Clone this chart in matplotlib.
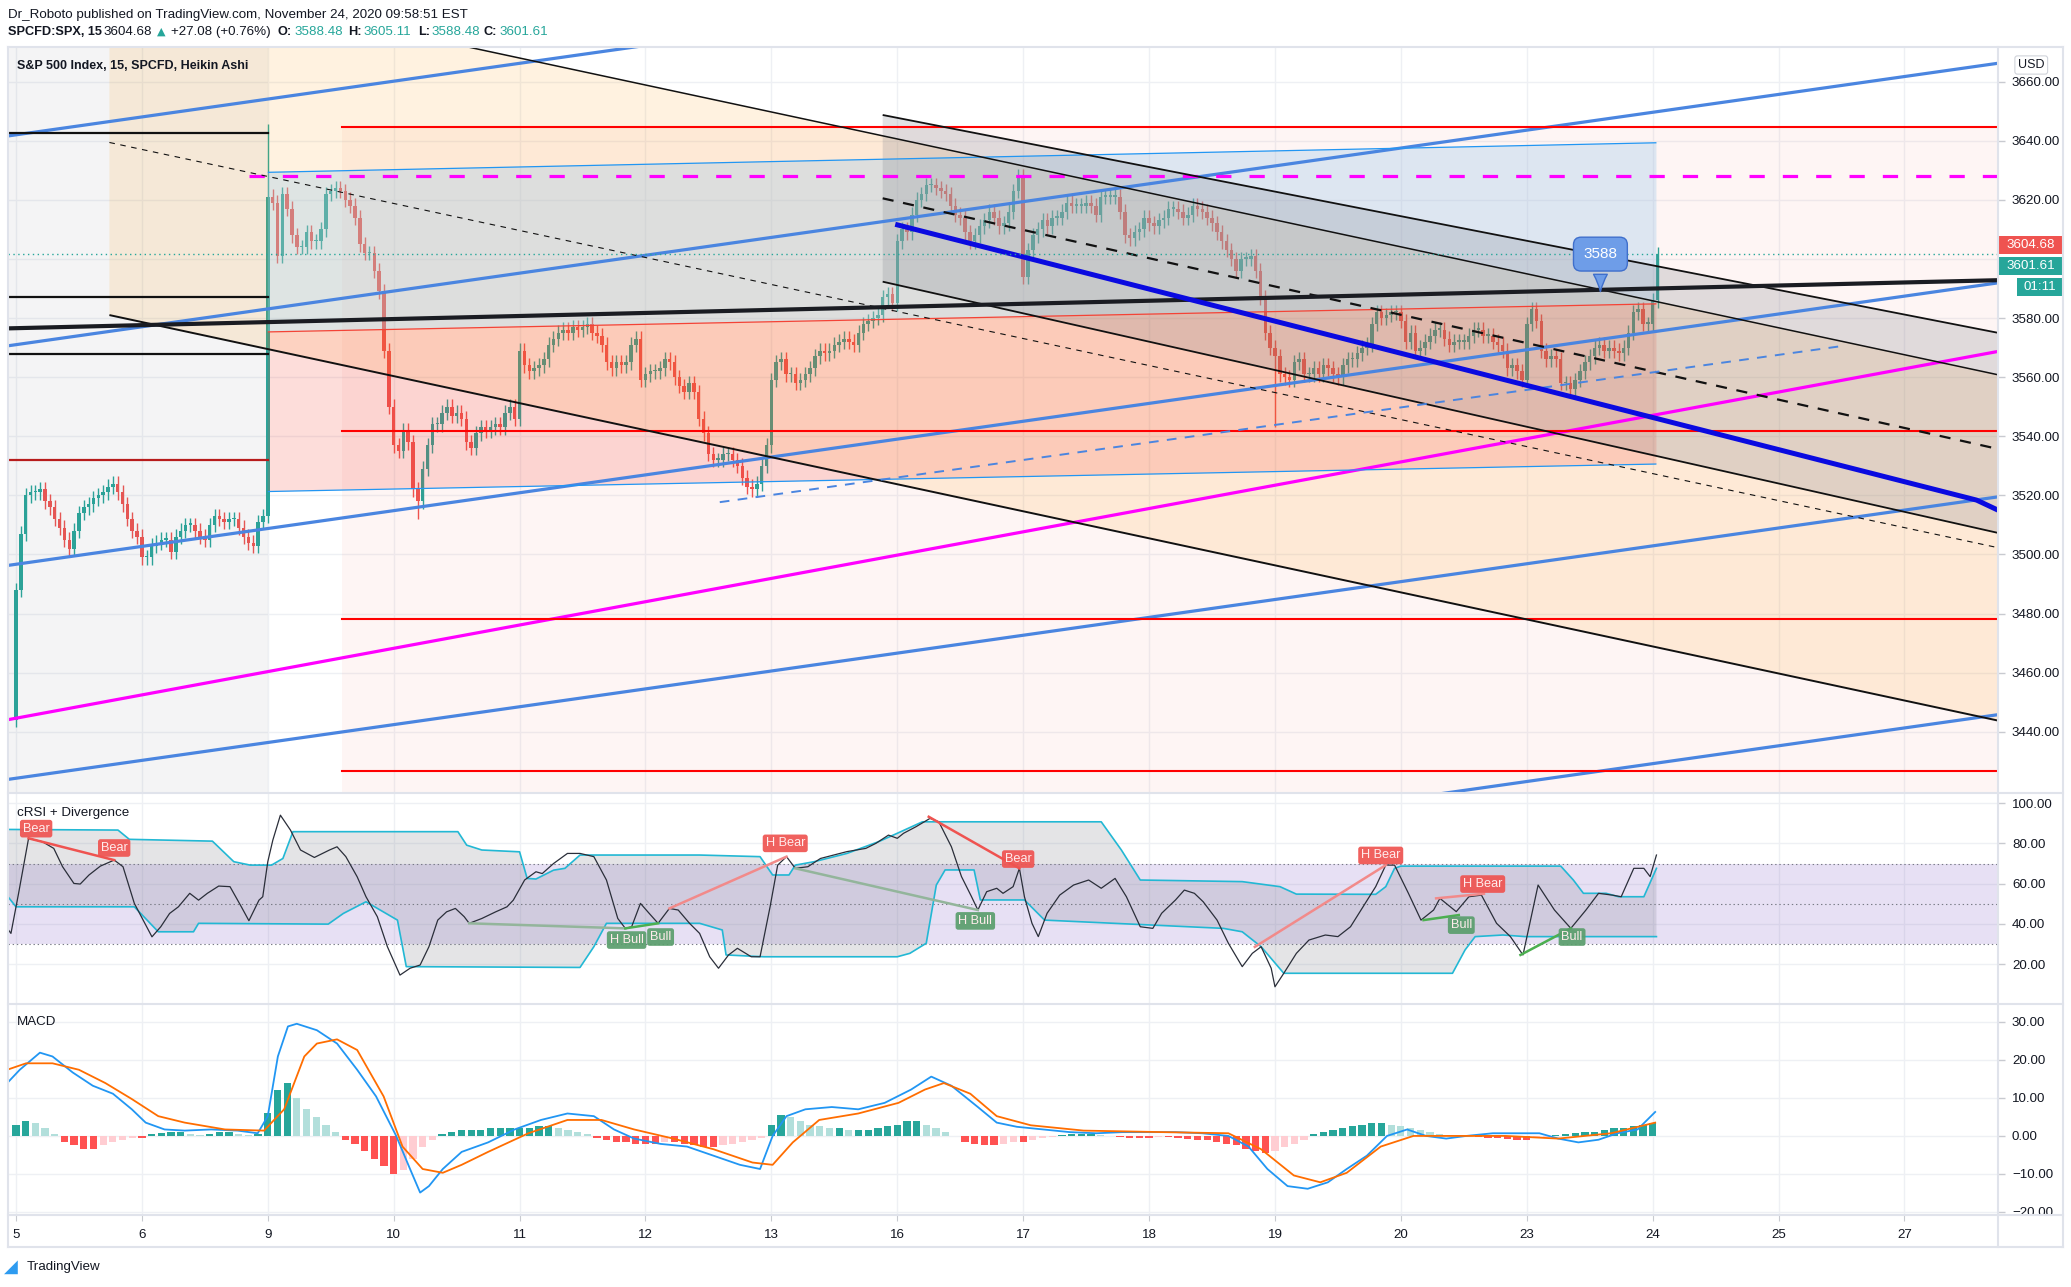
import numpy as np
import matplotlib.pyplot as plt
from matplotlib.patches import Polygon, Rectangle
from matplotlib.lines import Line2D
from matplotlib.transforms import blended_transform_factory

plt.rcParams['font.family'] = ['Liberation Sans', 'DejaVu Sans']
plt.rcParams['lines.scale_dashes'] = False

W, H = 2071, 1287

# --- time axis: trading days of Nov 2020, 26 bars of 15 min per session
DAY_LABELS = ["5", "6", "9", "10", "11", "12", "13", "16", "17", "18", "19", "20", "23", "24", "25", "27"]
BARS_PER_DAY = 26

# --- Heikin Ashi closes per session
HA_NOV05 = [3488, 3507, 3520, 3521, 3521, 3522, 3518, 3516, 3512, 3509, 3505, 3502, 3508, 3514, 3516, 3517, 3519, 3520, 3521, 3523, 3524, 3521, 3517, 3512, 3508, 3506]
HA_NOV06 = [3499, 3499, 3503, 3504, 3505, 3505, 3501, 3506, 3508, 3510, 3510, 3508, 3506, 3505, 3510, 3513, 3512, 3511, 3512, 3512, 3509, 3506, 3504, 3503, 3511, 3513]
HA_NOV09 = [3621, 3619, 3601, 3622, 3617, 3608, 3604, 3604, 3609, 3606, 3606, 3610, 3622, 3623, 3624, 3623, 3620, 3618, 3614, 3605, 3602, 3602, 3596, 3589, 3569, 3550]
HA_NOV10 = [3537, 3535, 3542, 3538, 3522, 3518, 3529, 3537, 3544, 3544, 3548, 3550, 3547, 3548, 3546, 3538, 3536, 3541, 3543, 3542, 3543, 3544, 3543, 3548, 3550, 3546]
HA_NOV11 = [3569, 3564, 3562, 3563, 3564, 3566, 3571, 3573, 3575, 3576, 3575, 3577, 3576, 3577, 3578, 3575, 3574, 3571, 3565, 3563, 3565, 3564, 3565, 3571, 3573, 3559]
HA_NOV12 = [3561, 3562, 3562, 3563, 3566, 3565, 3560, 3557, 3555, 3558, 3555, 3546, 3541, 3534, 3532, 3532, 3534, 3534, 3532, 3530, 3526, 3523, 3522, 3524, 3530, 3537]
HA_NOV13 = [3559, 3565, 3566, 3561, 3561, 3558, 3559, 3561, 3563, 3567, 3569, 3568, 3569, 3571, 3572, 3573, 3572, 3571, 3575, 3578, 3579, 3580, 3581, 3587, 3588, 3585]
HA_NOV16 = [3606, 3610, 3609, 3615, 3620, 3622, 3625, 3625, 3624, 3623, 3622, 3618, 3615, 3614, 3609, 3606, 3608, 3611, 3613, 3616, 3614, 3611, 3612, 3616, 3623, 3628]
HA_NOV17 = [3594, 3603, 3608, 3610, 3613, 3611, 3614, 3614, 3616, 3619, 3618, 3618, 3618, 3619, 3618, 3615, 3621, 3621, 3621, 3621, 3616, 3608, 3607, 3609, 3610, 3614]
HA_NOV18 = [3612, 3611, 3613, 3614, 3617, 3617, 3616, 3614, 3615, 3618, 3617, 3616, 3614, 3612, 3609, 3606, 3603, 3600, 3596, 3600, 3600, 3601, 3596, 3587, 3575, 3570]
HA_NOV19 = [3567, 3561, 3560, 3559, 3565, 3566, 3561, 3561, 3563, 3561, 3564, 3563, 3561, 3560, 3564, 3566, 3566, 3568, 3570, 3571, 3578, 3582, 3580, 3581, 3582, 3582]
HA_NOV20 = [3579, 3572, 3575, 3569, 3570, 3572, 3574, 3576, 3576, 3573, 3571, 3572, 3572, 3572, 3574, 3576, 3576, 3574, 3574, 3572, 3571, 3569, 3563, 3564, 3562, 3559]
HA_NOV23 = [3578, 3583, 3579, 3569, 3566, 3567, 3566, 3558, 3558, 3556, 3559, 3562, 3565, 3567, 3570, 3571, 3569, 3570, 3569, 3568, 3570, 3575, 3582, 3583, 3578, 3578]
HA_NOV24 = [3586, 3601.61]
HA_SESSIONS = [HA_NOV05, HA_NOV06, HA_NOV09, HA_NOV10, HA_NOV11, HA_NOV12, HA_NOV13,
               HA_NOV16, HA_NOV17, HA_NOV18, HA_NOV19, HA_NOV20, HA_NOV23, HA_NOV24]
FIRST_OPEN = 3444.0
WICK = 2.5
# (session, bar, extreme) for the long shadows
WICK_SPIKES = [(2, 0, 3645.5), (3, 5, 3512.0), (5, 23, 3519.5), (10, 0, 3543.0)]
LAST_PRICE = 3601.61

# --- drawings on the price pane: (day, price) end points
BLUE_PARALLELS = [((-0.064, 3641.6), (15.743, 3737.2)), ((-0.064, 3570.6), (15.743, 3666.2)),
                  ((-0.064, 3496.3), (15.743, 3591.9)), ((-0.064, 3423.9), (15.743, 3519.5)),
                  ((-0.064, 3350.3), (15.743, 3445.8))]
MAGENTA_LINE = ((-0.064, 3444.1), (15.743, 3568.7))
MAGENTA_LEVEL = (1.848, 3628.1)
BLACK_THICK = ((-0.064, 3576.5), (15.743, 3592.8))
LEFT_LEVELS = [3642.7, 3587.2, 3567.9]
LEFT_LEVEL_RED = 3532.0
FIB_START = 2.589
FIB_LEVELS = [3644.8, 3541.9, 3478.3, 3426.9]
BIG_CH_UPPER = ((0.742, 3697.7), (15.743, 3560.8))
BIG_CH_MID = ((0.742, 3639.4), (15.743, 3502.3))
BIG_CH_LOWER = ((0.742, 3581.0), (15.743, 3443.8))
GRAY_CH_UPPER = ((6.884, 3648.7), (15.743, 3575.0))
GRAY_CH_MID = ((6.884, 3620.5), (15.743, 3535.7))
GRAY_CH_LOWER = ((6.884, 3592.3), (15.743, 3507.3))
BOX_TOP = ((2.0, 3629.3), (13.03, 3639.3))
BOX_MID = ((2.0, 3575.3), (13.03, 3584.8))
BOX_BOTTOM = ((2.0, 3521.3), (13.03, 3530.6))
DARK_BLUE = [(7.003, 3611.5), (15.573, 3518.4), (15.743, 3515.0)]
BLUE_DASHED = ((5.59, 3517.7), (14.50, 3570.5))
CALLOUT = (12.585, 3588)

# --- cRSI
CRSI_T = [-0.06, -0.04, 0.02, 0.10, 0.21, 0.30, 0.37, 0.46, 0.51, 0.58, 0.67, 0.78, 0.85, 0.94, 1.01, 1.08, 1.15, 1.22, 1.29, 1.38, 1.45, 1.52, 1.61, 1.70, 1.79, 1.85, 1.93, 1.96, 2.00, 2.04, 2.10, 2.18, 2.26, 2.37, 2.49, 2.55, 2.62, 2.71, 2.78, 2.87, 2.95, 3.05, 3.13, 3.21, 3.28, 3.35, 3.42, 3.49, 3.56, 3.60, 3.70, 3.81, 3.90, 3.95, 4.04, 4.13, 4.18, 4.27, 4.38, 4.48, 4.59, 4.69, 4.78, 4.84, 4.89, 4.96, 5.03, 5.10, 5.19, 5.26, 5.35, 5.43, 5.51, 5.58, 5.66, 5.73, 5.84, 5.91, 5.99, 6.05, 6.12, 6.19, 6.29, 6.39, 6.60, 6.75, 6.83, 6.93, 7.00, 7.05, 7.15, 7.26, 7.33, 7.43, 7.51, 7.59, 7.64, 7.71, 7.79, 7.84, 7.92, 7.97, 8.01, 8.07, 8.12, 8.19, 8.29, 8.40, 8.52, 8.62, 8.73, 8.82, 8.93, 9.03, 9.10, 9.21, 9.28, 9.36, 9.43, 9.54, 9.63, 9.74, 9.82, 9.89, 9.97, 10.00, 10.07, 10.17, 10.27, 10.40, 10.50, 10.60, 10.70, 10.80, 10.88, 10.95, 11.06, 11.16, 11.26, 11.31, 11.44, 11.54, 11.64, 11.76, 11.87, 11.97, 12.09, 12.22, 12.35, 12.47, 12.57, 12.68, 12.75, 12.85, 12.93, 12.98, 13.03]
CRSI_V = [37, 35.3, 55, 82.5, 80.8, 77.5, 68.4, 60.1, 59.8, 64.3, 68.7, 71.7, 68.4, 50.2, 41.9, 33.6, 38.6, 45.2, 48.5, 55.2, 51.8, 55.2, 58.8, 58.5, 48.5, 41.6, 51.8, 53.5, 70.9, 81.6, 94, 86.6, 76.7, 73, 76.7, 78.3, 73.4, 63.4, 53.5, 43.6, 28.7, 14.6, 18, 19.6, 28.7, 41.9, 46, 47.7, 43.6, 40.3, 42.7, 46, 48.5, 51.8, 61.8, 65.9, 65, 70, 75, 75, 73.4, 61.8, 42.7, 37.8, 38.6, 50.2, 45.2, 40.3, 47.7, 46.9, 40.3, 35.3, 23.7, 18, 24.6, 27.9, 23.7, 23.7, 48.6, 69.2, 73.4, 67.6, 68.4, 72.5, 75.9, 77.5, 80, 84.1, 82.5, 85, 88.3, 92.4, 90.7, 78.3, 63.5, 53.5, 46.9, 56, 57.7, 55.2, 58.5, 67.6, 53.5, 40.3, 33.7, 45.3, 54.3, 59.3, 61.8, 57.7, 62.6, 53.5, 38.6, 37.8, 45.3, 51.9, 56.8, 55.2, 51, 41.9, 30.4, 18.8, 25.4, 28.7, 18, 8.8, 15.5, 25.4, 32, 34.5, 33.7, 38.6, 48.6, 58.5, 69.2, 69.2, 55.2, 41.9, 46.9, 52.7, 46.1, 53.5, 54.3, 40.3, 33.7, 24.6, 59.3, 46.9, 37.8, 46.9, 55.2, 54.3, 53.5, 67.6, 67.6, 63.5, 74.2]
BAND_UP_T = [-0.06, 0.81, 0.90, 1.56, 1.73, 1.86, 2.03, 2.12, 2.20, 3.51, 3.58, 3.70, 4.00, 4.06, 4.13, 4.27, 4.36, 4.48, 5.43, 5.91, 6.01, 6.14, 6.19, 6.34, 6.60, 6.85, 7.00, 7.20, 8.62, 8.78, 8.93, 9.74, 10.04, 10.17, 10.80, 10.88, 10.95, 11.00, 12.27, 12.37, 12.45, 12.63, 12.73, 12.93, 13.03]
BAND_UP_V = [86.9, 86.6, 82, 81.1, 70.9, 69.2, 69.2, 72.5, 85.8, 85.8, 79.1, 76.7, 75.8, 62.6, 62.3, 66.7, 67.6, 74.2, 74.2, 73.4, 64.3, 64.3, 69.2, 70.9, 75, 80.8, 85, 90.7, 90.7, 76.7, 61.8, 61, 58.5, 54.8, 54.7, 58.5, 67.6, 68.7, 68.7, 61.8, 55.2, 55.2, 53.5, 53.5, 67.6]
BAND_LO_T = [-0.06, 0.0, 0.94, 1.13, 1.41, 1.45, 2.48, 2.60, 2.78, 3.03, 3.10, 4.48, 4.59, 4.69, 5.43, 5.61, 5.64, 5.94, 7.00, 7.10, 7.23, 7.31, 7.38, 7.61, 7.66, 8.01, 8.17, 9.59, 9.74, 9.89, 10.07, 11.41, 11.51, 11.59, 11.81, 11.99, 13.03]
BAND_LO_V = [53.2, 48.5, 48.5, 36.1, 36.1, 40.3, 39.9, 45.2, 51, 41.9, 18.8, 18.4, 28.7, 40.3, 40.3, 37, 24.6, 23.7, 23.7, 25.4, 30.4, 59.3, 66.8, 66.8, 51.9, 51.9, 41.9, 37.8, 36.1, 28.7, 15.5, 15.5, 27.1, 33.7, 34.5, 33.7, 33.7]
DIV_LINES = [((0.10, 82.5), (0.78, 71.7), 'Bear'), ((3.60, 40.3), (4.84, 37.8), 'H Bull'),
             ((4.84, 37.8), (5.10, 40.3), 'Bull'), ((5.19, 47.7), (6.12, 73.4), 'H Bear'),
             ((6.19, 67.6), (7.64, 46.9), 'H Bull'), ((7.25, 93.2), (7.97, 67.6), 'Bear'),
             ((9.84, 28.6), (10.88, 69.2), 'H Bear'), ((11.18, 41.9), (11.46, 44.4), 'Bull'),
             ((11.28, 52.7), (11.66, 55.0), 'H Bear'), ((11.95, 24.6), (12.35, 37.8), 'Bull')]
DIV_TAGS = [('Bear', 0.16, 87.3), ('Bear', 0.78, 77.7), ('H Bull', 4.85, 32.0), ('Bull', 5.12, 33.5),
            ('H Bear', 6.11, 80.0), ('H Bull', 7.62, 41.5), ('Bear', 7.96, 72.2), ('H Bear', 10.84, 74.0),
            ('Bull', 11.48, 39.4), ('H Bear', 11.65, 59.8), ('Bull', 12.36, 33.5)]

# --- MACD
MACD_T = [-0.07, 0.03, 0.19, 0.29, 0.45, 0.61, 0.77, 0.92, 1.03, 1.18, 1.34, 1.55, 1.76, 1.92, 2.00, 2.08, 2.16, 2.23, 2.39, 2.55, 2.71, 2.86, 3.02, 3.13, 3.21, 3.28, 3.39, 3.54, 3.75, 3.96, 4.17, 4.38, 4.59, 4.75, 4.91, 5.12, 5.33, 5.54, 5.75, 5.91, 6.01, 6.12, 6.27, 6.48, 6.69, 6.90, 7.11, 7.27, 7.43, 7.64, 7.79, 7.95, 8.16, 8.37, 8.58, 8.79, 9.00, 9.21, 9.42, 9.63, 9.79, 9.94, 10.10, 10.26, 10.42, 10.57, 10.73, 10.89, 11.05, 11.20, 11.36, 11.52, 11.73, 11.94, 12.10, 12.25, 12.41, 12.57, 12.72, 12.88, 13.02]
MACD_V = [13.9, 17.4, 21.9, 20.9, 16.7, 13.2, 11.1, 7.0, 3.5, 1.7, 1.4, 1.7, 1.4, 0.7, 5.2, 20.9, 28.8, 29.5, 27.8, 24.3, 17.4, 10.4, 0, -8.7, -14.9, -13.2, -8.7, -4.2, -1.7, 1.7, 4.2, 5.9, 5.2, 1.7, -0.7, -2.1, -2.8, -5.2, -7.6, -8.7, 0, 5.2, 7.0, 7.6, 7.0, 8.7, 12.2, 15.6, 13.2, 7.6, 3.5, 2.4, 1.7, 1.0, 0.7, 1.0, 1.0, 1.0, 0.7, 0, -2.8, -8.7, -13.2, -13.9, -12.2, -8.7, -5.2, 0, 1.7, 0, -0.7, 0, 0.7, 0.7, 0.7, -0.7, -1.7, -1.0, 0.7, 1.7, 6.3]
SIGNAL_T = [-0.07, 0.08, 0.29, 0.50, 0.71, 0.92, 1.13, 1.34, 1.66, 1.97, 2.13, 2.29, 2.39, 2.55, 2.71, 2.92, 3.07, 3.23, 3.39, 3.54, 3.75, 4.07, 4.38, 4.65, 4.91, 5.22, 5.54, 5.85, 6.01, 6.17, 6.38, 6.69, 7.01, 7.22, 7.37, 7.58, 7.79, 8.06, 8.48, 9.11, 9.63, 9.89, 10.15, 10.36, 10.57, 10.84, 11.10, 11.41, 11.83, 12.25, 12.67, 13.02]
SIGNAL_V = [17.4, 19.1, 19.1, 17.4, 13.9, 9.7, 5.2, 3.5, 1.7, 1.4, 7.0, 20.9, 24.3, 25.4, 22.6, 10.4, -2.8, -8.7, -9.7, -7.6, -4.2, 0.7, 4.2, 4.2, 1.7, -0.7, -3.5, -7.0, -7.6, -1.7, 4.2, 5.9, 8.7, 12.2, 13.9, 11.1, 5.2, 2.8, 1.4, 1.0, 0.7, -3.5, -10.4, -12.2, -9.7, -2.8, 0, 0, 0, -0.7, 0.7, 3.5]
# histogram, one value per half hour
HIST = [3, 4, 3.5, 2, 0.5, -1.5, -2.5, -3.5, -3.5, -2.5, -1.5, -1, -0.5,
        -0.5, 0.5, 0.8, 1, 1, 0.5, 0.3, 0.5, 1, 1, 0.5, 0.3, 0.5,
        6, 12, 14, 10, 7, 5, 3, 1, -1, -2, -4, -6, -8,
        -10, -9, -6, -3, -1, 0.5, 1, 1.5, 1.5, 1.5, 2, 2, 2,
        2, 2, 2.5, 2.5, 2, 1.5, 1, 0.5, -0.5, -1, -1.5, -1.5, -2,
        -2, -2, -1.5, -1.5, -2, -2.5, -3, -3, -2.5, -2, -1.5, -1, -0.5,
        3, 5.5, 5, 4, 3, 2.5, 2, 2, 1.5, 1.5, 1.5, 2, 2.5,
        3, 4, 4, 3, 2, 1, 0, -1.5, -2, -2.5, -2.5, -2, -1.5,
        -1.5, -1, -0.5, -0.3, 0.3, 0.5, 0.5, 0.5, 0.3, 0, -0.3, -0.5, -0.5,
        -0.5, -0.3, -0.3, -0.5, -0.8, -1, -1.2, -1.5, -2, -2.5, -3.5, -4, -4.5,
        -4, -3, -2, -1, 0.5, 1, 1.5, 2, 2.5, 3, 3.5, 3.5, 3,
        2.5, 2, 1.5, 1, 0.5, 0.3, 0.2, 0, -0.3, -0.5, -0.5, -0.8, -1,
        -1, -0.5, -0.3, 0.3, 0.5, 0.8, 1, 1, 1.5, 2, 2, 2.5, 3,
        3.5]

PRICE_TICKS = list(range(3440, 3661, 20))
PRICE_HIDDEN = [3600]  # covered by the last-price tags
CRSI_TICKS = [20, 40, 60, 80, 100]
MACD_TICKS = [-20, -10, 0, 10, 20, 30]

TEAL, RED = '#26a69a', '#ef5350'
GRID = '#eef0f4'
BORDER = '#e0e3eb'
TXT = '#131722'


def rect(x0, y0, x1, y1):
    return [x0 / W, 1 - y1 / H, (x1 - x0) / W, (y1 - y0) / H]


def seg(ax, p, **kw):
    (x0, y0), (x1, y1) = p
    ax.plot([x0, x1], [y0, y1], solid_capstyle='butt', **kw)


fig = plt.figure(figsize=(W / 100, H / 100), dpi=100)
ax_p = fig.add_axes(rect(8, 47, 1998, 793))
ax_r = fig.add_axes(rect(8, 793, 1998, 1004), sharex=ax_p)
ax_m = fig.add_axes(rect(8, 1004, 1998, 1215), sharex=ax_p)

for ax, ticks in [(ax_p, PRICE_TICKS), (ax_r, CRSI_TICKS), (ax_m, MACD_TICKS)]:
    for s in ax.spines.values():
        s.set_visible(False)
    ax.yaxis.tick_right()
    ax.set_yticks(ticks)
    ax.set_yticklabels(['' if (ax is ax_p and t in PRICE_HIDDEN) else f'{t:.2f}'.replace('-', '\u2212')
                        for t in ticks])
    ax.tick_params(axis='y', length=5, width=1, color='#c8cad0', pad=5, labelsize=9.6, labelcolor=TXT)
    ax.tick_params(axis='x', length=0, labelbottom=False)
    ax.grid(True, color=GRID, lw=1)
    ax.set_axisbelow(True)

ax_p.set_xticks(range(len(DAY_LABELS)))
ax_p.set_xlim(-0.0635, 15.743)
ax_m.tick_params(axis='x', labelbottom=True, length=4, color='#c8cad0', pad=6, labelsize=9.6, labelcolor=TXT)
ax_m.set_xticklabels(DAY_LABELS)
ax_p.set_ylim(3419.3, 3671.7)
ax_r.set_ylim(0.25, 105.0)
ax_m.set_ylim(-20.8, 34.7)

# ---------------- price pane ----------------
xs, op, cl = [], [], []
starts = []
prev = FIRST_OPEN
for k, sess in enumerate(HA_SESSIONS):
    starts.append(len(xs))
    for j, c in enumerate(sess):
        xs.append(k + j / BARS_PER_DAY)
        op.append(prev)
        cl.append(c)
        prev = c
xs, op, cl = np.array(xs), np.array(op), np.array(cl)
up = cl >= op
colors = np.where(up, TEAL, RED)
hi = np.maximum(op, cl) + WICK
lo = np.minimum(op, cl) - WICK
for k, j, ext in WICK_SPIKES:
    i = starts[k] + j
    hi[i] = max(hi[i], ext)
    lo[i] = min(lo[i], ext)
ax_p.vlines(xs, lo, hi, colors=colors, lw=1, zorder=1)
body = np.maximum(np.abs(cl - op), 0.5)
ax_p.bar(xs, body, bottom=np.minimum(op, cl), width=0.72 / BARS_PER_DAY, color=colors, lw=0, zorder=1.2)

# shaded areas
ax_p.axvspan(-0.0635, 2.0, color='#787b86', alpha=0.08, lw=0, zorder=2)
ax_p.fill_between([FIB_START, 15.743], 3380, FIB_LEVELS[0], color='#f44336', alpha=0.05, lw=0, zorder=2)
ax_p.add_patch(Polygon([BIG_CH_UPPER[0], BIG_CH_UPPER[1], BIG_CH_LOWER[1], BIG_CH_LOWER[0]],
                       closed=True, fc='#ff9800', alpha=0.12, lw=0, zorder=2))
ax_p.add_patch(Polygon([BOX_TOP[0], BOX_TOP[1], BOX_MID[1], BOX_MID[0]],
                       closed=True, fc='#9cc8ec', alpha=0.33, lw=0, zorder=2))
ax_p.add_patch(Polygon([BOX_MID[0], BOX_MID[1], BOX_BOTTOM[1], BOX_BOTTOM[0]],
                       closed=True, fc='#f44336', alpha=0.18, lw=0, zorder=2))
ax_p.add_patch(Polygon([GRAY_CH_UPPER[0], GRAY_CH_UPPER[1], GRAY_CH_LOWER[1], GRAY_CH_LOWER[0]],
                       closed=True, fc='#787b86', alpha=0.22, lw=0, zorder=2))

# lines
for ln in BLUE_PARALLELS:
    seg(ax_p, ln, color='#4a85e0', lw=2.3, zorder=4)
seg(ax_p, MAGENTA_LINE, color='#ff00ff', lw=2.3, zorder=4)
ax_p.plot([MAGENTA_LEVEL[0], 15.743], [MAGENTA_LEVEL[1]] * 2, color='#ff00ff', lw=2.3,
          dashes=(11, 13), zorder=4)
for lv in LEFT_LEVELS:
    ax_p.plot([-0.0635, 2.0], [lv, lv], color='#111111', lw=1.6, zorder=4)
ax_p.plot([-0.0635, 2.0], [LEFT_LEVEL_RED] * 2, color='#b71c1c', lw=1.6, zorder=4)
for lv in FIB_LEVELS:
    ax_p.plot([FIB_START, 15.743], [lv, lv], color='#ff0000', lw=1.5, zorder=4)
seg(ax_p, BOX_TOP, color='#2196f3', lw=0.9, zorder=4)
seg(ax_p, BOX_MID, color='#f44336', lw=0.9, zorder=4)
seg(ax_p, BOX_BOTTOM, color='#2196f3', lw=0.9, zorder=4)
seg(ax_p, BIG_CH_UPPER, color='#111111', lw=1.1, zorder=4)
seg(ax_p, BIG_CH_MID, color='#111111', lw=0.8, dashes=(4, 4), zorder=4)
seg(ax_p, BIG_CH_LOWER, color='#111111', lw=1.4, zorder=4)
seg(ax_p, GRAY_CH_UPPER, color='#111111', lw=1.3, zorder=4)
seg(ax_p, GRAY_CH_MID, color='#111111', lw=1.6, dashes=(8, 7), zorder=4)
seg(ax_p, GRAY_CH_LOWER, color='#111111', lw=1.3, zorder=4)
seg(ax_p, BLUE_DASHED, color='#4a85e0', lw=1.4, dashes=(7, 6), zorder=4)
seg(ax_p, BLACK_THICK, color='#1a1c22', lw=3.0, zorder=5)
dx, dy = zip(*DARK_BLUE)
ax_p.plot(dx, dy, color='#0a0ae0', lw=3.6, zorder=5)
ax_p.axhline(LAST_PRICE, color=TEAL, lw=1, dashes=(1, 2.5), zorder=5)

ax_p.annotate(str(CALLOUT[1]), xy=CALLOUT, xytext=(0, 29), textcoords='offset points',
              ha='center', va='center', color='white', fontsize=11, zorder=7,
              bbox=dict(boxstyle='round,pad=0.65,rounding_size=0.5', fc='#6e9de8', ec='#3f6fcc', lw=1),
              arrowprops=dict(arrowstyle='wedge,tail_width=0.9,shrink_factor=0.4', fc='#6e9de8',
                              ec='#3f6fcc', lw=1))

# right axis tags
bt = blended_transform_factory(ax_p.transAxes, ax_p.transData)
for val, lab, col, x0 in [(LAST_PRICE + 3.07, '3604.68', '#ef5350', 0.0),
                           (3597.7, '3601.61', TEAL, 0.0), (3590.6, '01:11', TEAL, 19 / 1990)]:
    ax_p.add_patch(Rectangle((1.0 + x0, val - 3.05), 65 / 1990 - x0, 6.1, transform=bt,
                             fc=col, ec='none', clip_on=False, zorder=8))
    ax_p.text(1.0 + (65 / 1990 + x0) / 2, val, lab, transform=bt, ha='center', va='center',
              color='white', fontsize=9.6, clip_on=False, zorder=9)

# ---------------- cRSI pane ----------------
ax_r.axhspan(30, 70, color='#7e57c2', alpha=0.18, lw=0, zorder=1)
for lv in (30, 50, 70):
    ax_r.axhline(lv, color='#787b86', lw=0.8, dashes=(1, 2), zorder=2)
band = list(zip(BAND_UP_T, BAND_UP_V)) + list(zip(BAND_LO_T, BAND_LO_V))[::-1]
ax_r.add_patch(Polygon(band, closed=True, fc='#787b86', alpha=0.2, lw=0, zorder=2))
ax_r.plot(BAND_UP_T, BAND_UP_V, color='#22b8d4', lw=1.2, zorder=3)
ax_r.plot(BAND_LO_T, BAND_LO_V, color='#22b8d4', lw=1.2, zorder=3)
ax_r.plot(CRSI_T, CRSI_V, color='#2a2e39', lw=0.9, zorder=4)
line_col = {'Bear': '#ef5350', 'H Bear': '#f28a8a', 'Bull': '#4caf50', 'H Bull': '#93b59b'}
for a, b, kind in DIV_LINES:
    ax_r.plot([a[0], b[0]], [a[1], b[1]], color=line_col[kind], lw=1.8, zorder=5)
for lab, d, v in DIV_TAGS:
    fc = '#ef5350' if 'Bear' in lab else '#5a9e6c'
    ax_r.text(d, v, lab, ha='center', va='center', fontsize=9.2, color='#ffecec', zorder=6,
              bbox=dict(boxstyle='round,pad=0.22,rounding_size=0.2', fc=fc, ec='none', alpha=0.92))

# ---------------- MACD pane ----------------
hx = np.array([k // 13 + (k % 13) * 2 / BARS_PER_DAY for k in range(len(HIST))])
hv = np.array(HIST)
prev_h = np.concatenate([[0], hv[:-1]])
hcol = np.where(hv >= 0, np.where(hv >= prev_h, '#26a69a', '#b2dfdb'),
                np.where(hv <= prev_h, '#ff5252', '#ffcdd2'))
ax_m.bar(hx, hv, width=1.5 / BARS_PER_DAY, color=hcol, lw=0, zorder=2)
ax_m.plot(MACD_T, MACD_V, color='#2196f3', lw=1.3, zorder=3)
ax_m.plot(SIGNAL_T, SIGNAL_V, color='#ff6d00', lw=1.3, zorder=3)


# ---------------- frame and texts ----------------
def fline(x0, y0, x1, y1, **kw):
    fig.add_artist(Line2D([x0 / W, x1 / W], [1 - y0 / H, 1 - y1 / H], color=BORDER, lw=1.5, **kw))


for x0, y0, x1, y1 in [(8, 47, 2063, 47), (8, 1247, 2063, 1247), (8, 47, 8, 1247),
                       (2063, 47, 2063, 1247), (1998, 47, 1998, 1247), (8, 793, 2063, 793),
                       (8, 1004, 2063, 1004), (8, 1215, 2063, 1215)]:
    fline(x0, y0, x1, y1)

renderer = fig.canvas.get_renderer()


def ftext(x, y, s, **kw):
    return fig.text(x / W, 1 - y / H, s, va='center', ha='left', **kw)


def chain(y, pieces, gap=4):
    # lay out pieces left to right, never letting one run into the next
    x_end = 0
    for x, s, kw in pieces:
        x = max(x, x_end + gap)
        t = ftext(x, y, s, **kw)
        x_end = t.get_window_extent(renderer).x1


ftext(8, 15, 'Dr_Roboto published on TradingView.com, November 24, 2020 09:58:51 EST', fontsize=9.6, color=TXT)
plain = dict(fontsize=9.6, color=TXT)
bold = dict(fontsize=9.2, color=TXT, fontweight='bold')
teal = dict(fontsize=9.6, color=TEAL)
chain(32, [(8, 'SPCFD:SPX, 15', bold), (102, '3604.68', plain),
           (157, '\u25b2', dict(fontsize=8, color=TEAL, family='DejaVu Sans')),
           (171, '+27.08 (+0.76%)', plain),
           (278, 'O:', bold), (292, '3588.48', teal), (348, 'H:', bold), (362, '3605.11', teal),
           (418, 'L:', bold), (429, '3588.48', teal), (484, 'C:', bold), (498, '3601.61', teal)], gap=2)
ftext(17, 66, 'S&P 500 Index, 15, SPCFD, Heikin Ashi', fontsize=9, color=TXT, fontweight='bold')
ftext(17, 813, 'cRSI + Divergence', fontsize=9.6, color=TXT)
ftext(17, 1022, 'MACD', fontsize=9.6, color=TXT)
ftext(2018, 65, 'USD', fontsize=9, color=TXT,
      bbox=dict(boxstyle='round,pad=0.25,rounding_size=0.2', fc='white', ec='#d0d3da', lw=0.8))
ftext(27, 1267, 'TradingView', fontsize=9.6, color=TXT)
ftext(4, 1267, '\u25e2', fontsize=13, color='#2e9bf0', family='DejaVu Sans')

fig.savefig('out.png', dpi=100, facecolor='white')
